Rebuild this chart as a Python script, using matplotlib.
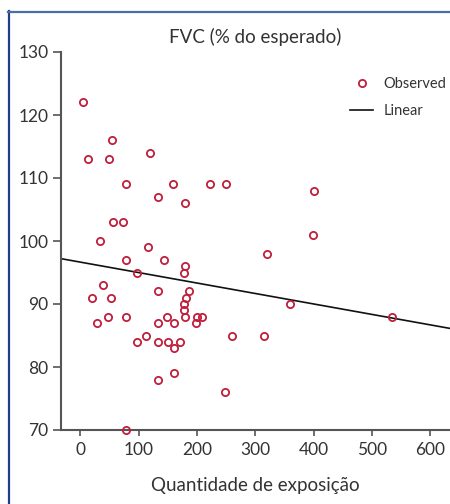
import matplotlib.pyplot as plt
from matplotlib.lines import Line2D
import numpy as np

# quantidade de exposicao vs FVC (% do esperado)
exposure = [4, 13, 50, 55, 120, 79, 159, 223, 250, 400, 134,
            180, 56, 74, 34, 399, 116, 79, 143, 320, 180, 178, 98, 39,
            21, 53, 134, 187, 182, 178, 178, 179, 359, 47, 79, 29, 133,
            149, 160, 200, 209, 199, 534, 98, 113, 133, 150, 171, 160,
            260, 315, 160, 133, 249, 79]
fvc = [122, 113, 113, 116, 114, 109, 109, 109, 109, 108, 107,
       106, 103, 103, 100, 101, 99, 97, 97, 98, 96, 95, 95, 93,
       91, 91, 92, 92, 91, 90, 89, 88, 90, 88, 88, 87, 87,
       88, 87, 88, 88, 87, 88, 84, 85, 84, 84, 84, 83,
       85, 85, 79, 78, 76, 70]

# linear fit as drawn
intercept = 96.65
slope = -0.0166

x_ticks = [0, 100, 200, 300, 400, 500, 600]
y_ticks = [70, 80, 90, 100, 110, 120, 130]

plt.rcParams['font.family'] = ['Lato', 'DejaVu Sans']
txt = '#333333'
red = '#c01f3c'

fig = plt.figure(figsize=(4.5, 5.04), dpi=100)
ax = fig.add_axes([61/450, 74/504, 389/450, 378/504])

ax.plot(exposure, fvc, 'o', mfc='none', mec=red, mew=1.3, ms=5.2,
        label='Observed', clip_on=False, zorder=3)
xl = np.array([-33, 634])
ax.plot(xl, intercept + slope * xl, color='#111111', lw=1.2, label='Linear')

ax.set_xlim(-33, 634)
ax.set_ylim(70, 130)
ax.set_xticks(x_ticks)
ax.set_yticks(y_ticks)

for s in ['top', 'right']:
    ax.spines[s].set_visible(False)
for s in ['left', 'bottom']:
    ax.spines[s].set_color('#555555')
    ax.spines[s].set_linewidth(1.5)

ax.tick_params(axis='y', length=6, width=1.2, color='#555555', pad=3,
               labelsize=12.5, labelcolor=txt)
ax.tick_params(axis='x', length=4.5, width=1.2, color='#555555', pad=4,
               labelsize=12.5, labelcolor=txt)

ax.text(0.5, 1.04, 'FVC (% do esperado)', transform=ax.transAxes,
        ha='center', va='center', fontsize=13.5, color=txt)
ax.text(0.5, -0.146, 'Quantidade de exposição', transform=ax.transAxes,
        ha='center', va='center', fontsize=13.5, color=txt)

leg = fig.legend(loc='upper left', bbox_to_anchor=(350/450, 1 - 77/504),
                 frameon=False, fontsize=10.5, borderpad=0, borderaxespad=0,
                 handlelength=1.6, handletextpad=0.7, labelspacing=0.9)
for t in leg.get_texts():
    t.set_color(txt)

# blue frame around the figure
fig.add_artist(Line2D([8.5/450, 8.5/450], [0, 1 - 11/504], color='#1f3f86', lw=1.6))
fig.add_artist(Line2D([8/450, 1], [1 - 11.5/504, 1 - 11.5/504], color='#4a6fa5', lw=1.6))

plt.savefig('out.png', dpi=100)
